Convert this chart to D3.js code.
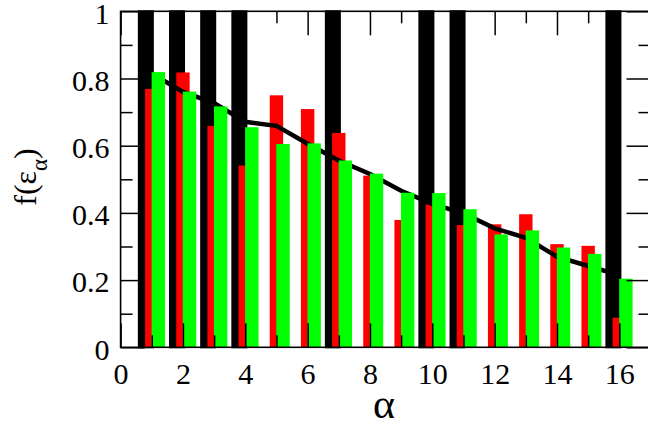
<!DOCTYPE html>
<html>
<head>
<meta charset="utf-8">
<script src="https://cdn.jsdelivr.net/npm/d3@7"></script>
<style>
  html, body { margin: 0; padding: 0; background: #ffffff; }
  svg { display: block; }
  svg text { font-family: "Liberation Serif", "Times New Roman", Times, "DejaVu Serif", "Noto Serif", serif; }
</style>
</head>
<body>
<svg id="chart" width="648" height="427"></svg>
<script>
// ---- data ----
const alpha = [1, 2, 3, 4, 5, 6, 7, 8, 9, 10, 11, 12, 13, 14, 15, 16];
const redValues = [0.769, 0.818, 0.659, 0.541, 0.750, 0.709, 0.638, 0.511,
                   0.379, 0.425, 0.364, 0.366, 0.396, 0.307, 0.302, 0.088];
const greenValues = [0.819, 0.761, 0.717, 0.655, 0.605, 0.607, 0.556, 0.517,
                     0.460, 0.459, 0.411, 0.336, 0.348, 0.297, 0.278, 0.204];
const lineValues = [0.815, 0.760, 0.727, 0.671, 0.659, 0.606, 0.556, 0.516,
                    0.466, 0.427, 0.399, 0.354, 0.326, 0.270, 0.242, 0.215];
const blackAlpha = [1, 2, 3, 4, 7, 10, 11, 16];
const blackValues = [1, 1, 1, 1, 1, 1, 1, 1];
const xMajorTicks = [0, 2, 4, 6, 8, 10, 12, 14, 16];
const xMinorTicks = [1, 3, 5, 7, 9, 11, 13, 15];
const yMajorTicks = [0, 0.2, 0.4, 0.6, 0.8, 1];
const yMinorTicks = [0.1, 0.3, 0.5, 0.7, 0.9];
const xDomain = [0, 17];
const yDomain = [0, 1];

// ---- layout ----
const svg = d3.select("#chart");
const pL = 120.6, pR = 650.5, pT = 11.3, pB = 347.3;
const x = d3.scaleLinear().domain(xDomain).range([pL, pR]);
const y = d3.scaleLinear().domain(yDomain).range([pB, pT]);
const fontFamily = '"Liberation Serif", "Times New Roman", Times, "DejaVu Serif", "Noto Serif", serif';

const blackW = 0.45, barW = 0.43;
const blackOff = -0.19, redOff = 0.0, greenOff = 0.21;
const unit = x(1) - x(0);

// black bars
svg.append("g").selectAll("rect")
  .data(blackAlpha.map((a, i) => ({ a, v: blackValues[i] })))
  .join("rect")
  .attr("x", d => x(d.a + blackOff - blackW / 2))
  .attr("width", blackW * unit)
  .attr("y", d => y(d.v))
  .attr("height", d => y(0) - y(d.v))
  .attr("fill", "#000")
  .attr("stroke", "#000")
  .attr("stroke-width", 2);

// red bars
svg.append("g").selectAll("rect")
  .data(alpha.map((a, i) => ({ a, v: redValues[i] })))
  .join("rect")
  .attr("x", d => x(d.a + redOff - barW / 2))
  .attr("width", barW * unit)
  .attr("y", d => y(d.v))
  .attr("height", d => y(0) - y(d.v))
  .attr("fill", "#ff0000");

// line
const line = d3.line().x((d, i) => x(alpha[i])).y(d => y(d));
svg.append("path")
  .datum(lineValues)
  .attr("d", line)
  .attr("fill", "none")
  .attr("stroke", "#000")
  .attr("stroke-width", 4.5);

// green bars
svg.append("g").selectAll("rect")
  .data(alpha.map((a, i) => ({ a, v: greenValues[i] })))
  .join("rect")
  .attr("x", d => x(d.a + greenOff - barW / 2))
  .attr("width", barW * unit)
  .attr("y", d => y(d.v))
  .attr("height", d => y(0) - y(d.v))
  .attr("fill", "#00ff00");

// ---- axes ----
function styleAxis(g) {
  g.attr("font-family", null).attr("font-size", null);
  g.selectAll("path.domain").remove();
  g.selectAll(".tick line").attr("stroke", "#000").attr("stroke-width", 1.5);
  g.selectAll(".tick text")
    .attr("fill", "#000")
    .attr("font-family", fontFamily)
    .attr("font-size", 30);
}

// bottom
svg.append("g").attr("transform", `translate(0,${pB})`)
  .call(d3.axisBottom(x).tickValues(xMajorTicks).tickSizeInner(-24).tickSizeOuter(0)
        .tickPadding(15).tickFormat(d3.format("d")))
  .call(styleAxis);
svg.append("g").attr("transform", `translate(0,${pB})`)
  .call(d3.axisBottom(x).tickValues(xMinorTicks).tickSizeInner(-12).tickSizeOuter(0).tickFormat(""))
  .call(styleAxis);
// top
svg.append("g").attr("transform", `translate(0,${pT})`)
  .call(d3.axisTop(x).tickValues(xMajorTicks).tickSizeInner(-24).tickSizeOuter(0).tickFormat(""))
  .call(styleAxis);
svg.append("g").attr("transform", `translate(0,${pT})`)
  .call(d3.axisTop(x).tickValues(xMinorTicks).tickSizeInner(-12).tickSizeOuter(0).tickFormat(""))
  .call(styleAxis);
// left
const yLeft = svg.append("g").attr("transform", `translate(${pL},0)`)
  .call(d3.axisLeft(y).tickValues(yMajorTicks).tickSizeInner(-24).tickSizeOuter(0)
        .tickPadding(11).tickFormat(d => d === 0 || d === 1 ? d3.format("d")(d) : d3.format(".1f")(d)))
  .call(styleAxis);
yLeft.selectAll(".tick text").attr("dy", "0.39em");
svg.append("g").attr("transform", `translate(${pL},0)`)
  .call(d3.axisLeft(y).tickValues(yMinorTicks).tickSizeInner(-12).tickSizeOuter(0).tickFormat(""))
  .call(styleAxis);
// right
svg.append("g").attr("transform", `translate(${pR},0)`)
  .call(d3.axisRight(y).tickValues(yMajorTicks).tickSizeInner(-24).tickSizeOuter(0).tickFormat(""))
  .call(styleAxis);
svg.append("g").attr("transform", `translate(${pR},0)`)
  .call(d3.axisRight(y).tickValues(yMinorTicks).tickSizeInner(-12).tickSizeOuter(0).tickFormat(""))
  .call(styleAxis);

// frame
svg.append("rect")
  .attr("x", pL).attr("y", pT)
  .attr("width", pR - pL).attr("height", pB - pT)
  .attr("fill", "none").attr("stroke", "#000").attr("stroke-width", 1.6);

// ---- titles ----
svg.append("text")
  .attr("x", 384).attr("y", 418)
  .attr("text-anchor", "middle")
  .attr("font-family", fontFamily)
  .attr("font-size", 42)
  .text("α");

const yt = svg.append("text")
  .attr("transform", "translate(36,177) rotate(-90)")
  .attr("text-anchor", "middle")
  .attr("font-family", fontFamily)
  .attr("font-size", 32);
yt.append("tspan").text("f(ε");
yt.append("tspan").attr("dy", 11).attr("font-size", 23).text("α");
yt.append("tspan").attr("dy", -11).text(")");
</script>
</body>
</html>
